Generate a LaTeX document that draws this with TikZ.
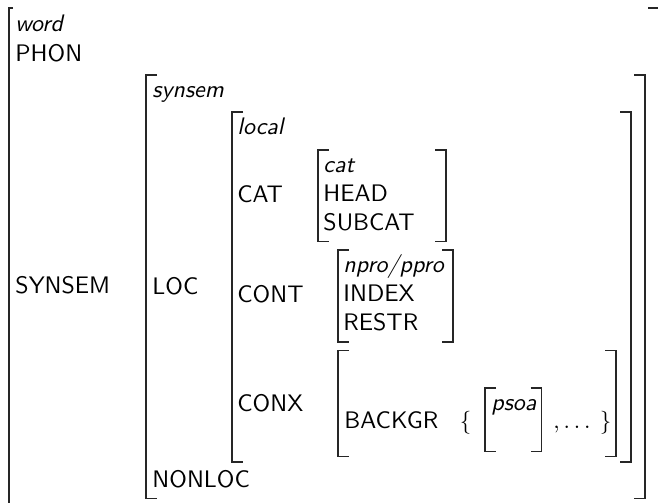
\documentclass[tikz,border=0pt]{standalone}
\usepackage{fontspec}
\tikzset{
  brk/.style={line width=0.5pt, draw=black!85},
  attr/.style={anchor=base west, inner sep=0pt, font=\fontsize{10.4}{12.5}\selectfont\sffamily},
  typ/.style={anchor=base west, inner sep=0pt, font=\fontsize{10.4}{12.5}\selectfont\sffamily\itshape},
  mth/.style={anchor=base west, inner sep=0pt, font=\fontsize{10.4}{12.5}\selectfont},
}
% name, left x, top y, right x, bottom y
\newcommand\avmbox[5]{%
  \coordinate (#1-nw) at (#2,#3);
  \coordinate (#1-se) at (#4,#5);
  \draw[brk] ({#2+11},#3) -- (#1-nw) -- (#2,#5) -- ({#2+11},#5);
  \draw[brk] ({#4-11},#3) -- (#4,#3) -- (#1-se) -- ({#4-11},#5);
}
\begin{document}
\begin{tikzpicture}[x=0.434783pt,y=-0.434783pt]
\path[use as bounding box] (0,0) rectangle (658,503);
\clip (0,0) rectangle (658,503);

% outermost (word) box, cropped by the picture's edges
\coordinate (w-nw) at (9,8);
\coordinate (w-ne) at (662,8);
\draw[brk] (13,8) -- (w-nw) -- (9,530);
\draw[brk] (648,8) -- (w-ne) -- (662,530);

% inner boxes
\avmbox{ss}{146}{75}{645}{498.5}
\avmbox{loc}{232}{112}{631}{462}
\avmbox{cat}{318}{150}{446}{241.5}
\avmbox{cont}{338}{250}{453}{342}
\avmbox{conx}{338}{350.5}{616}{456.5}
\avmbox{psoa}{485}{388}{541.5}{451.5}

% word level
\node[typ]  (tword)   at (15,31)  {word};
\node[attr] (phon)    at (15,61)  {PHON};
\node[attr] (synsemA) at (15,293) {SYNSEM};

% synsem level
\node[typ]  (tsynsem) at (152,97)  {synsem};
\node[attr] (locA)    at (152,294) {LOC};
\node[attr] (nonloc)  at (152,487) {NONLOC};

% local level
\node[typ]  (tlocal)  at (237,134) {local};
\node[attr] (catA)    at (237,202) {CAT};
\node[attr] (contA)   at (237,302) {CONT};
\node[attr] (conxA)   at (237,411) {CONX};

% cat
\node[typ]  (tcat)    at (323,172)   {cat};
\node[attr] (head)    at (323,201.5) {HEAD};
\node[attr] (subcat)  at (323,230.5) {SUBCAT};

% npro/ppro
\node[typ]  (tnpro)   at (343,272) {npro/ppro};
\node[attr] (index)   at (343,301) {INDEX};
\node[attr] (restr)   at (343,330) {RESTR};

% conx
\node[attr] (backgr)  at (344,428) {BACKGR};
\node[mth]  (lbrace)  at (459.5,428) {$\{$};
\node[typ]  (tpsoa)   at (491,410) {psoa};
\node[mth]  (dots)    at (553,428) {$,\ldots$};
\node[mth]  (rbrace)  at (599.5,428) {$\}$};
\end{tikzpicture}
\end{document}
